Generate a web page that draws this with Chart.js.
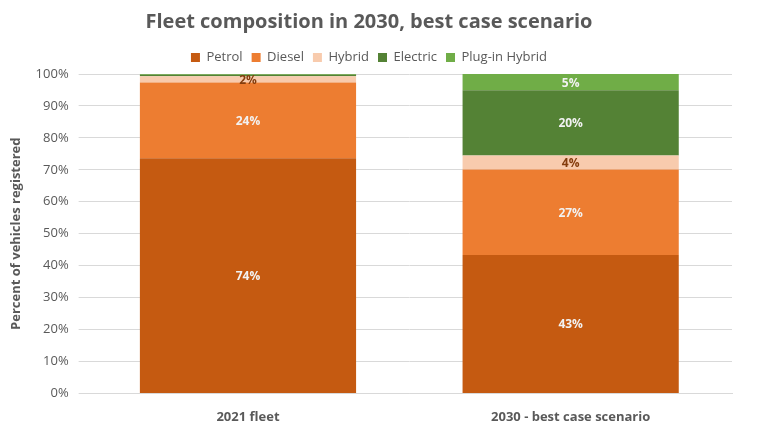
<!DOCTYPE html>
<html>
<head>
<meta charset="utf-8">
<script src="https://cdn.jsdelivr.net/npm/chart.js@4"></script>
<style>
  html, body { margin: 0; padding: 0; background: #fff; }
  #wrap { width: 768px; height: 433px; }
</style>
</head>
<body>
<div id="wrap"><canvas id="chart"></canvas></div>
<script>
const categories = ['2021 fleet', '2030 - best case scenario'];
const petrol = [73.6, 43.3];
const diesel = [23.7, 26.8];
const hybrid = [2.0, 4.4];
const electric = [0.5, 20.4];
const plugin = [0.2, 5.1];
const yTicks = [0, 10, 20, 30, 40, 50, 60, 70, 80, 90, 100];

const textColor = '#595959';
const fontFamily = '"Open Sans", "Liberation Sans", sans-serif';

// simple data labels, values under 1% are skipped
const barLabels = {
  id: 'barLabels',
  afterDatasetsDraw(chart) {
    const ctx = chart.ctx;
    ctx.save();
    ctx.font = 'bold 12px ' + fontFamily;
    ctx.textAlign = 'center';
    ctx.textBaseline = 'middle';
    chart.data.datasets.forEach((ds, i) => {
      const meta = chart.getDatasetMeta(i);
      meta.data.forEach((bar, j) => {
        const v = ds.data[j];
        if (v < 1) return;
        ctx.fillStyle = ds.labelColor;
        ctx.fillText(Math.round(v) + '%', bar.x, (bar.y + bar.base) / 2 + 1);
      });
    });
    ctx.restore();
  }
};

new Chart(document.getElementById('chart'), {
  type: 'bar',
  data: {
    labels: categories,
    datasets: [
      { label: 'Petrol', data: petrol, backgroundColor: '#C55A11', labelColor: '#F2F2F2' },
      { label: 'Diesel', data: diesel, backgroundColor: '#ED7D31', labelColor: '#F2F2F2' },
      { label: 'Hybrid', data: hybrid, backgroundColor: '#F8CBAD', labelColor: '#843C0C' },
      { label: 'Electric', data: electric, backgroundColor: '#548235', labelColor: '#F2F2F2' },
      { label: 'Plug-in Hybrid', data: plugin, backgroundColor: '#70AD47', labelColor: '#F2F2F2' }
    ]
  },
  options: {
    responsive: true, maintainAspectRatio: false, animation: false,
    layout: { padding: { left: 6, right: 36, top: 6, bottom: 0 } },
    datasets: { bar: { barPercentage: 0.67, categoryPercentage: 1, borderWidth: 0 } },
    plugins: {
      title: {
        display: true, text: 'Fleet composition in 2030, best case scenario',
        color: textColor, font: { family: fontFamily, size: 20, weight: 'bold' },
        padding: { top: 4, bottom: 8 }
      },
      legend: {
        position: 'top',
        labels: { color: textColor, font: { family: fontFamily, size: 13 }, boxWidth: 9, boxHeight: 9, padding: 9 }
      },
      tooltip: { enabled: false }
    },
    scales: {
      x: {
        stacked: true,
        grid: { display: false },
        border: { color: '#D9D9D9' },
        ticks: { color: textColor, font: { family: fontFamily, size: 13, weight: 'bold' }, padding: 8 }
      },
      y: {
        stacked: true, min: 0, max: 100,
        afterBuildTicks: axis => { axis.ticks = yTicks.map(v => ({ value: v })); },
        grid: { color: '#D9D9D9' },
        border: { display: false },
        ticks: { color: textColor, font: { family: fontFamily, size: 13 }, padding: 10, callback: v => v + '%' },
        title: {
          display: true, text: 'Percent of vehicles registered',
          color: textColor, font: { family: fontFamily, size: 13, weight: 'bold' }, padding: 2
        }
      }
    }
  },
  plugins: [barLabels]
});
</script>
</body>
</html>
